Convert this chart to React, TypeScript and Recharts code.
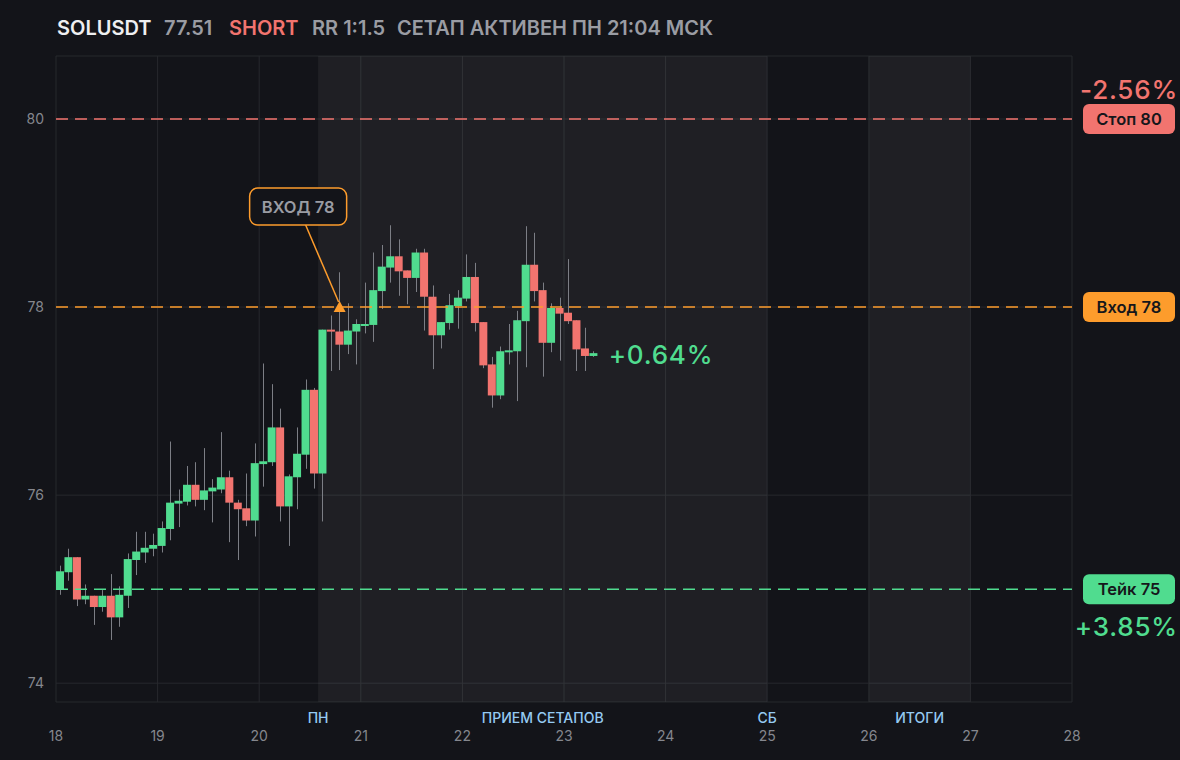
import React from 'react';
import {
  ComposedChart,
  Bar,
  XAxis,
  YAxis,
  CartesianGrid,
  ReferenceLine,
  ReferenceArea,
  ReferenceDot,
} from 'recharts';

// ---- data ----
const OPEN = [
  75.0, 75.18, 75.34, 74.89, 74.93, 74.81, 74.93, 74.7, 74.93, 75.31, 75.39, 75.43,
  75.46, 75.64, 75.91, 75.93, 76.11, 75.95, 76.04, 76.06, 76.19, 75.92, 75.86, 75.73,
  76.33, 76.35, 76.72, 75.88, 76.19, 76.43, 77.12, 76.23, 77.76, 77.74, 77.6, 77.74,
  77.8, 77.81, 78.17, 78.42, 78.54, 78.39, 78.31, 78.58, 78.11, 77.7, 77.83, 78.01,
  78.09, 78.32, 77.84, 77.39, 77.06, 77.52, 77.53, 77.85, 78.45, 78.18, 77.62, 77.99,
  77.94, 77.86, 77.56, 77.48,
];
const HIGH = [
  75.25, 75.43, 75.34, 75.05, 74.93, 74.99, 75.16, 75.03, 75.38, 75.61, 75.61, 75.59,
  75.72, 76.57, 76.06, 76.31, 76.35, 76.5, 76.17, 76.67, 76.26, 75.95, 76.23, 76.55,
  77.4, 77.18, 76.92, 76.22, 76.72, 77.23, 77.14, 77.76, 77.91, 78.37, 78.04, 77.87,
  78.26, 78.58, 78.66, 78.87, 78.72, 78.39, 78.62, 78.62, 78.23, 77.84, 78.14, 78.18,
  78.56, 78.47, 77.84, 77.47, 77.58, 77.82, 77.96, 78.86, 78.79, 78.26, 78.04, 78.1,
  78.51, 77.86, 77.78, 77.53,
];
const LOW = [
  74.94, 75.09, 74.82, 74.84, 74.62, 74.76, 74.46, 74.6, 74.8, 75.15, 75.28, 75.35,
  75.39, 75.52, 75.66, 75.89, 75.88, 75.84, 75.71, 76.02, 75.5, 75.31, 75.67, 75.56,
  76.09, 76.31, 75.72, 75.46, 75.85, 76.28, 76.07, 75.72, 77.32, 77.33, 77.5, 77.39,
  77.72, 77.63, 77.98, 78.26, 78.12, 78.03, 78.16, 77.75, 77.34, 77.56, 77.76, 77.77,
  78.06, 77.74, 77.35, 76.93, 77.02, 77.39, 77.0, 77.36, 78.06, 77.26, 77.52, 77.43,
  77.82, 77.32, 77.32, 77.47,
];
const CLOSE = [
  75.19, 75.34, 74.89, 74.93, 74.81, 74.93, 74.7, 74.94, 75.32, 75.4, 75.44, 75.47,
  75.65, 75.92, 75.94, 76.11, 75.95, 76.05, 76.08, 76.19, 75.92, 75.85, 75.73, 76.34,
  76.36, 76.72, 75.88, 76.2, 76.44, 77.12, 76.23, 77.76, 77.74, 77.6, 77.75, 77.82,
  77.82, 78.18, 78.43, 78.54, 78.38, 78.31, 78.58, 78.11, 77.7, 77.84, 78.02, 78.1,
  78.32, 77.83, 77.38, 77.06, 77.53, 77.54, 77.86, 78.45, 78.17, 77.62, 77.99, 77.93,
  77.85, 77.55, 77.48, 77.51,
];
const START_DAY = 18;
const CANDLES_PER_DAY = 12;
const DAY_TICKS = [18, 19, 20, 21, 22, 23, 24, 25, 26, 27, 28];
const PRICE_TICKS = [74, 76, 78, 80];
const ZONES = [
  [20.58, 25],
  [26, 27],
];
const SESSION_X = [20.58, 22.79, 25, 26.5];
const SESSION_LABELS = ['ПН', 'ПРИЕМ СЕТАПОВ', 'СБ', 'ИТОГИ'];
const LEVEL_VALUES = [80, 78, 75];
const LEVEL_LABELS = ['Стоп 80', 'Вход 78', 'Тейк 75'];
const LEVEL_PCTS = ['-2.56%', '', '+3.85%'];
const ENTRY_INDEX = 33;
const ENTRY_PRICE = 78;
const ENTRY_TEXT = 'ВХОД 78';
const LAST_PCT = '+0.64%';

// ---- style ----
const BG = '#131419';
const GREEN = '#50dc8f';
const RED = '#f2746f';
const ORANGE = '#fd9c2c';
const WICK = '#7c7e85';
const GRID = '#27282d';
const GRAY = '#9a9ca3';
const AXIS_GRAY = '#85878e';
const BLUE = '#95caf2';
const LEVEL_COLORS = [RED, ORANGE, GREEN];
const FONT = 'Inter, "Noto Sans", sans-serif';

const candleTime = (i: number) => START_DAY + (i + 0.5) / CANDLES_PER_DAY;

const data = OPEN.map((o, i) => ({
  t: candleTime(i),
  open: o,
  high: HIGH[i],
  low: LOW[i],
  close: CLOSE[i],
  range: [LOW[i], HIGH[i]],
}));

const Candle = (props: any) => {
  const { x, y, width, height, payload } = props;
  if (!payload) return null;
  const { open, close, high, low } = payload;
  const span = high - low;
  const pxPer = span > 0 ? height / span : 0;
  const yOf = (v: number) => y + (high - v) * pxPer;
  const up = close >= open;
  const top = yOf(Math.max(open, close));
  const bot = yOf(Math.min(open, close));
  const cx = Math.round(x + width / 2) + 0.5;
  return (
    <g>
      <line x1={cx} x2={cx} y1={y} y2={y + height} stroke={WICK} strokeWidth={1} />
      <rect x={x} y={top} width={width} height={Math.max(bot - top, 2)} fill={up ? GREEN : RED} />
    </g>
  );
};

const levelLabel = (idx: number) => (p: any) => {
  const vb = p.viewBox || {};
  const right = (vb.x || 0) + (vb.width || 0);
  const y = vb.y || 0;
  const color = LEVEL_COLORS[idx];
  const px = right + 11;
  const pw = 92;
  const pct = LEVEL_PCTS[idx];
  const pctY = idx === 0 ? y - 30 : y + 37;
  return (
    <g>
      <rect x={px} y={y - 15} width={pw} height={30} rx={6} ry={6} fill={color} />
      <text
        x={px + pw / 2}
        y={y}
        textAnchor="middle"
        dominantBaseline="central"
        fill="#16171b"
        fontSize={16.5}
        fontWeight={600}
        fontFamily={FONT}
      >
        {LEVEL_LABELS[idx]}
      </text>
      {pct ? (
        <text
          x={1178}
          y={pctY}
          textAnchor="end"
          dominantBaseline="central"
          fill={color}
          fontSize={26}
          fontWeight={500}
          letterSpacing={0.8}
          fontFamily={FONT}
        >
          {pct}
        </text>
      ) : null}
    </g>
  );
};

const sessionLabel = (idx: number) => (p: any) => {
  const vb = p.viewBox || {};
  const x = vb.x || 0;
  const bottom = (vb.y || 0) + (vb.height || 0);
  return (
    <text
      x={x}
      y={bottom + 15}
      textAnchor="middle"
      dominantBaseline="central"
      fill={BLUE}
      fontSize={14}
      fontWeight={500}
      fontFamily={FONT}
    >
      {SESSION_LABELS[idx]}
    </text>
  );
};

const EntryMarker = (p: any) => {
  const { cx, cy } = p;
  if (cx == null || cy == null) return null;
  return (
    <g>
      <line x1={cx - 34} y1={cy - 82} x2={cx - 1} y2={cy - 5} stroke={ORANGE} strokeWidth={1.5} />
      <rect
        x={cx - 90}
        y={cy - 119}
        width={97}
        height={37}
        rx={8}
        ry={8}
        fill={BG}
        stroke={ORANGE}
        strokeWidth={1.5}
      />
      <text
        x={cx - 41.5}
        y={cy - 100.5}
        textAnchor="middle"
        dominantBaseline="central"
        fill={GRAY}
        fontSize={16.5}
        fontWeight={600}
        fontFamily={FONT}
      >
        {ENTRY_TEXT}
      </text>
      <path d={`M ${cx} ${cy - 6} L ${cx + 6} ${cy + 5} L ${cx - 6} ${cy + 5} Z`} fill={ORANGE} />
    </g>
  );
};

const LastPct = (p: any) => {
  const { cx, cy } = p;
  if (cx == null || cy == null) return null;
  return (
    <text
      x={cx + 15}
      y={cy + 1}
      dominantBaseline="central"
      fill={GREEN}
      fontSize={26}
      fontWeight={500}
      letterSpacing={0.8}
      fontFamily={FONT}
    >
      {LAST_PCT}
    </text>
  );
};

export default function App() {
  const last = data.length - 1;
  return (
    <div
      style={{
        position: 'fixed',
        left: 0,
        top: 0,
        width: 1180,
        height: 760,
        background: BG,
        fontFamily: FONT,
        overflow: 'hidden',
      }}
    >
      <div
        style={{
          position: 'absolute',
          left: 0,
          top: 14,
          height: 28,
          width: 1180,
          fontSize: 20,
          fontWeight: 600,
          lineHeight: '28px',
          whiteSpace: 'nowrap',
        }}
      >
        <span style={{ position: 'absolute', left: 57, color: '#eeeff1' }}>SOLUSDT</span>
        <span style={{ position: 'absolute', left: 164, color: GRAY }}>77.51</span>
        <span style={{ position: 'absolute', left: 229, color: RED }}>SHORT</span>
        <span style={{ position: 'absolute', left: 312, color: GRAY }}>RR 1:1.5</span>
        <span style={{ position: 'absolute', left: 397, color: GRAY }}>СЕТАП АКТИВЕН ПН 21:04 МСК</span>
      </div>
      <ComposedChart
        width={1180}
        height={760}
        data={data}
        margin={{ top: 56, right: 108, bottom: 0, left: 0 }}
      >
        <CartesianGrid stroke={GRID} strokeWidth={1} />
        <XAxis
          dataKey="t"
          type="number"
          domain={[18, 28]}
          ticks={DAY_TICKS}
          allowDataOverflow
          height={58}
          tickLine={false}
          axisLine={false}
          tickMargin={23}
          tick={{ fill: AXIS_GRAY, fontSize: 14, fontFamily: FONT }}
        />
        <YAxis
          type="number"
          domain={[73.8, 80.67]}
          ticks={PRICE_TICKS}
          allowDataOverflow
          width={56}
          tickLine={false}
          axisLine={false}
          tickMargin={6}
          tick={{ fill: AXIS_GRAY, fontSize: 14, fontFamily: FONT }}
        />
        {ZONES.map((z, i) => (
          <ReferenceArea
            key={'z' + i}
            x1={z[0]}
            x2={z[1]}
            fill="#ffffff"
            fillOpacity={0.05}
            stroke="none"
            ifOverflow="visible"
          />
        ))}
        {SESSION_X.map((sx, i) => (
          <ReferenceLine
            key={'s' + i}
            x={sx}
            stroke="none"
            strokeOpacity={0}
            label={{ content: sessionLabel(i) } as any}
          />
        ))}
        <Bar dataKey="range" barSize={8} shape={<Candle />} isAnimationActive={false} />
        {LEVEL_VALUES.map((v, i) => (
          <ReferenceLine
            key={'l' + i}
            y={v}
            stroke={LEVEL_COLORS[i]}
            strokeWidth={1.5}
            strokeDasharray="12 7"
            label={{ content: levelLabel(i) } as any}
          />
        ))}
        <ReferenceDot
          x={candleTime(ENTRY_INDEX)}
          y={ENTRY_PRICE}
          r={6}
          shape={(p: any) => <EntryMarker {...p} />}
        />
        <ReferenceDot
          x={data[last].t}
          y={CLOSE[last]}
          r={4}
          shape={(p: any) => <LastPct {...p} />}
        />
      </ComposedChart>
    </div>
  );
}
